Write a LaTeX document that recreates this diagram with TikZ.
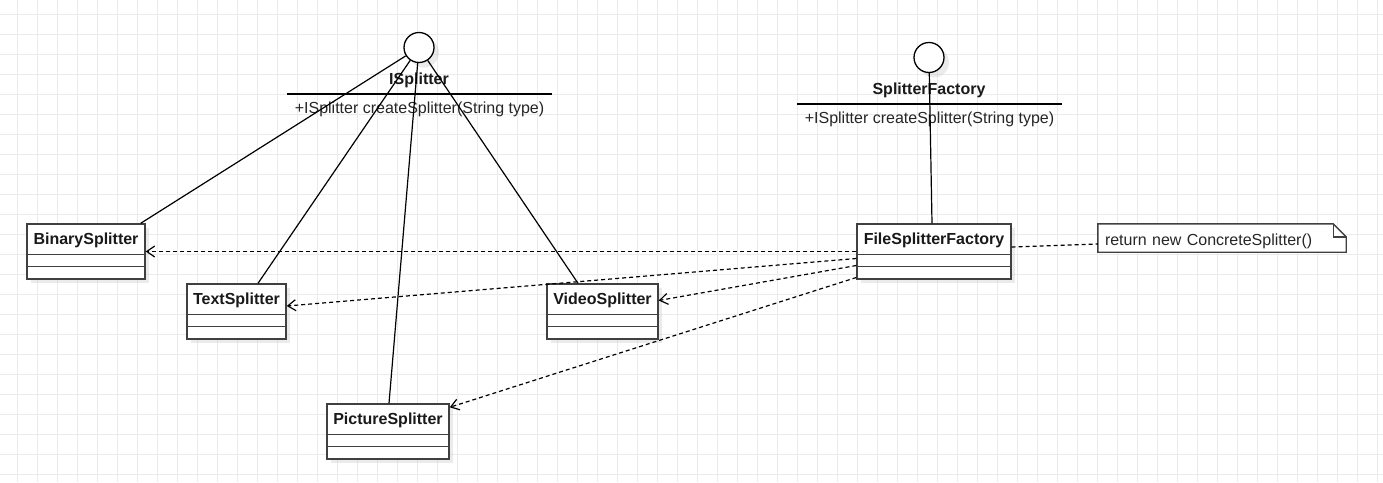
\documentclass[tikz,border=0pt]{standalone}
\usepackage{fontspec}
\setmainfont{Liberation Sans}
\usetikzlibrary{arrows.meta, positioning, shadows}
\pgfdeclarelayer{gridlayer}
\pgfdeclarelayer{notelayer}
\pgfsetlayers{gridlayer,notelayer,main}

\begin{document}
\begin{tikzpicture}[
        x=1pt, y=-1pt,
        % Node styles
        gridline/.style={draw=black!8, line width=1pt},
        umlclass/.style={rectangle, draw=black!75, line width=1.4pt, fill=white,
                        minimum height=55pt, inner sep=0pt,
                        drop shadow={shadow xshift=4pt, shadow yshift=-4pt, fill=black!25, opacity=0.3}},
        iface/.style={circle, draw=black, line width=1.3pt, fill=white, minimum size=30pt, inner sep=0pt,
                        drop shadow={shadow xshift=5pt, shadow yshift=-5pt, fill=black!25, opacity=0.3}},
        classname/.style={font=\fontsize{16}{19}\selectfont\bfseries, text=black!90, inner sep=0pt,
                        text height=11.5pt, text depth=3.5pt},
        method/.style={font=\fontsize{16}{19}\selectfont, text=black!85, inner sep=0pt,
                        minimum width=265pt, minimum height=31pt, text height=11.5pt, text depth=3.5pt},
        note/.style={rectangle, font=\fontsize{16}{19}\selectfont, text=black!85, inner xsep=7pt, inner ysep=0pt,
                        text width=234pt, align=left, minimum height=28pt, text height=14.5pt, text depth=0pt},
        divider/.style={draw=black!75, line width=1.4pt},
        realize/.style={draw=black, line width=1.2pt},
        depend/.style={draw=black, line width=1.2pt, dash pattern=on 4pt off 3pt,
                        -{Straight Barb[length=8pt, width=11pt]}},
        attach/.style={draw=black, line width=1.2pt, dash pattern=on 4pt off 3pt}
    ]
        % Background and grid
        \begin{pgfonlayer}{gridlayer}
            \useasboundingbox[fill=white] (0,0) rectangle (1383,482);
            \foreach \gx in {17,37,...,1377} \draw[gridline] (\gx,0) -- (\gx,482);
            \foreach \gy in {14,34,...,474} \draw[gridline] (0,\gy) -- (1383,\gy);
        \end{pgfonlayer}

        % Concrete classes
        \node[umlclass, minimum width=118pt] (binarysplit) at (86,251.5) {};
        \node[umlclass, minimum width=99pt] (textsplit) at (236.5,311.5) {};
        \node[umlclass, minimum width=111pt] (videosplit) at (602.5,311.5) {};
        \node[umlclass, minimum width=122pt] (picturesplit) at (388,431.5) {};
        \node[umlclass, minimum width=154pt] (filefactory) at (934,251.5) {};

        \node[classname] at ([yshift=-17pt]binarysplit.north) {BinarySplitter};
        \node[classname] at ([yshift=-17pt]textsplit.north) {TextSplitter};
        \node[classname] at ([yshift=-17pt]videosplit.north) {VideoSplitter};
        \node[classname] at ([yshift=-17pt]picturesplit.north) {PictureSplitter};
        \node[classname] at ([yshift=-17pt]filefactory.north) {FileSplitterFactory};

        % Empty compartments
        \foreach \cls in {binarysplit,textsplit,videosplit,picturesplit,filefactory} {
            \draw[divider] ([yshift=-31pt]\cls.north west) -- ([yshift=-31pt]\cls.north east);
            \draw[divider] ([yshift=-43pt]\cls.north west) -- ([yshift=-43pt]\cls.north east);
        }

        % Interfaces
        \node[iface] (isplitter) at (419,47.5) {};
        \node[classname] (isplittername) at (419,80.5) {ISplitter};
        \node[method] (isplitterops) at (419.5,109.5) {+ISplitter createSplitter(String type)};
        \draw[divider, draw=black] (isplitterops.north west) -- (isplitterops.north east);

        \node[iface] (splitterfactory) at (929,57.5) {};
        \node[classname] (splitterfactoryname) at (929,90.5) {SplitterFactory};
        \node[method] (splitterfactoryops) at (929.5,119.5) {+ISplitter createSplitter(String type)};
        \draw[divider, draw=black] (splitterfactoryops.north west) -- (splitterfactoryops.north east);

        % Note with folded corner
        \node[note] (notebox) at (1222,238) {return new ConcreteSplitter()};
        \begin{pgfonlayer}{notelayer}
            \filldraw[divider, fill=white] (notebox.north west) -- ([xshift=-13pt]notebox.north east)
                -- ([yshift=-13pt]notebox.north east) -- (notebox.south east) -- (notebox.south west) -- cycle;
            \draw[divider] ([xshift=-13pt]notebox.north east) -- ([xshift=-13pt, yshift=-13pt]notebox.north east)
                -- ([yshift=-13pt]notebox.north east);
        \end{pgfonlayer}

        % Realization lines
        \draw[realize] (isplitter) -- ([xshift=-5pt]binarysplit.north east);
        \draw[realize] (isplitter) -- ([xshift=21.5pt]textsplit.north);
        \draw[realize] (isplitter) -- ([xshift=1pt]picturesplit.north);
        \draw[realize] (isplitter) -- ([xshift=-24.5pt]videosplit.north);
        \draw[realize] (splitterfactory) -- ([xshift=-2pt]filefactory.north);

        % Dependencies
        \draw[depend] (filefactory.west) -- (binarysplit.east);
        \draw[depend] ([yshift=-7pt]filefactory.west) -- ([yshift=5.5pt]textsplit.east);
        \draw[depend] ([yshift=-14pt]filefactory.west) -- ([yshift=11pt]videosplit.east);
        \draw[depend] ([yshift=-26pt]filefactory.west) -- ([yshift=-4pt]picturesplit.north east);
        \draw[attach] ([yshift=4.5pt]filefactory.east) -- ([yshift=-6pt]notebox.west);
\end{tikzpicture}
\end{document}
